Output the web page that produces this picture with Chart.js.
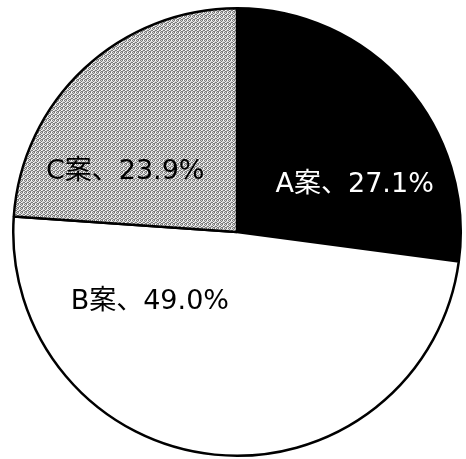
<!DOCTYPE html>
<html>
<head>
<meta charset="utf-8">
<script src="https://cdn.jsdelivr.net/npm/chart.js@4.4.1/dist/chart.umd.min.js"></script>
<style>
  html, body { margin: 0; padding: 0; background: #fff; }
  #wrap { width: 466px; height: 459px; }
</style>
</head>
<body>
<div id="wrap"><canvas id="pieChart" width="466" height="459"></canvas></div>
<script>
// Dados do gráfico
const categorias = ["A案", "B案", "C案"];
const valores = [27.1, 49.0, 23.9];
const rotulos = ["A案、27.1%", "B案、49.0%", "C案、23.9%"];

// posição dos rótulos (ângulo em graus, fração do raio)
const rotuloAngulo = [-21.7, 141.2, 208.2];
const rotuloRaio = [0.566, 0.5, 0.567];
const rotuloCor = ["#ffffff", "#000000", "#000000"];

// Padrão pontilhado cinza para a fatia C
function padraoCinza() {
  const c = document.createElement("canvas");
  c.width = 4; c.height = 4;
  const g = c.getContext("2d");
  g.fillStyle = "#d8d8d8";
  g.fillRect(0, 0, 4, 4);
  g.fillStyle = "#7a7a7a";
  [[0,0],[2,0],[1,1],[3,2],[0,2],[2,3],[1,3]].forEach(p => g.fillRect(p[0], p[1], 1, 1));
  g.fillStyle = "#ffffff";
  [[3,0],[1,2]].forEach(p => g.fillRect(p[0], p[1], 1, 1));
  return g.createPattern(c, "repeat");
}

// Plugin simples para escrever os rótulos
const rotulosPlugin = {
  id: "rotulos",
  afterDatasetsDraw(chart) {
    const ctx = chart.ctx;
    const meta = chart.getDatasetMeta(0);
    ctx.save();
    ctx.font = "27px 'DejaVu Sans', 'Noto Sans CJK JP'";
    ctx.textAlign = "center";
    ctx.textBaseline = "middle";
    meta.data.forEach((arc, i) => {
      const a = rotuloAngulo[i] * Math.PI / 180;
      const r = arc.outerRadius * rotuloRaio[i];
      ctx.fillStyle = rotuloCor[i];
      ctx.fillText(rotulos[i], arc.x + Math.cos(a) * r, arc.y + Math.sin(a) * r);
    });
    ctx.restore();
  }
};

const ctx = document.getElementById("pieChart").getContext("2d");
new Chart(ctx, {
  type: "pie",
  data: {
    labels: categorias,
    datasets: [{
      data: valores,
      backgroundColor: ["#000000", "#ffffff", padraoCinza()],
      borderColor: "#000000",
      borderWidth: 2.5
    }]
  },
  options: {
    responsive: false,
    animation: false,
    layout: { padding: { left: 12, right: 4, top: 7, bottom: 2 } },
    plugins: {
      legend: { display: false },
      tooltip: { enabled: false }
    }
  },
  plugins: [rotulosPlugin]
});
</script>
</body>
</html>
